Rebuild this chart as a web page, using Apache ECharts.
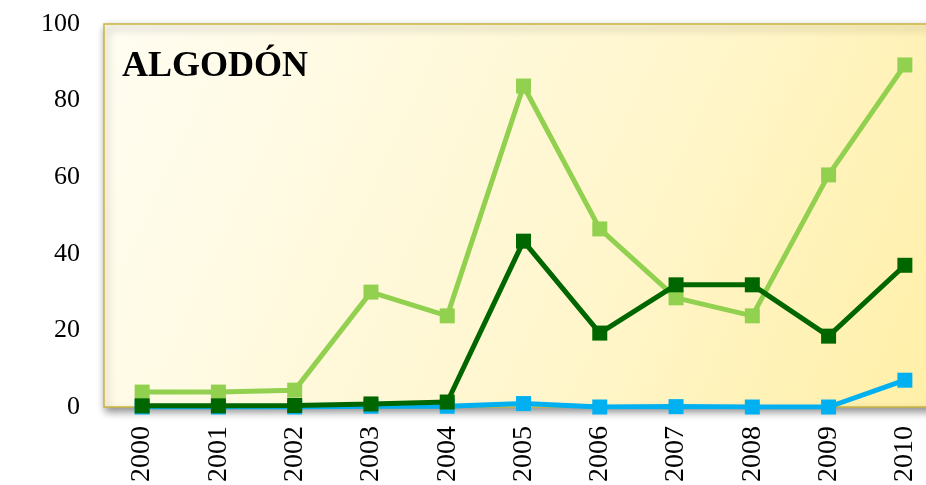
<!DOCTYPE html>
<html>
<head>
<meta charset="utf-8">
<script src="https://cdn.jsdelivr.net/npm/echarts@6/dist/echarts.min.js"></script>
<style>html,body{margin:0;padding:0;background:#fff;overflow:hidden;width:926px;height:485px;}#c{width:960px;height:485px;}</style>
</head>
<body>
<div id="c"></div>
<script>
var years = ['2000','2001','2002','2003','2004','2005','2006','2007','2008','2009','2010'];
var lightGreen = [3.9, 3.9, 4.4, 30.0, 23.8, 83.8, 46.5, 28.5, 23.8, 60.6, 89.3];
var darkGreen = [0.3, 0.3, 0.4, 0.8, 1.3, 43.3, 19.3, 31.9, 31.9, 18.5, 37.0];
var blue = [0.0, 0.0, 0.0, 0.2, 0.2, 0.9, 0.0, 0.1, 0.0, 0.0, 7.0];
var yTicks = [0, 20, 40, 60, 80, 100];

var chart = echarts.init(document.getElementById('c'));
var serif = '"Liberation Serif", "DejaVu Serif", serif';
function mk(name, data, color, z) {
  return {
    name: name, type: 'line', data: data, z: z,
    symbol: 'rect', symbolSize: 15,
    lineStyle: {color: color, width: 5},
    itemStyle: {color: color},
    emphasis: {disabled: true}
  };
}
chart.setOption({
  animation: false,
  title: {
    text: 'ALGODÓN', left: 117, top: 44,
    textStyle: {fontFamily: serif, fontSize: 36, fontWeight: 'bold', color: '#000'}
  },
  grid: {
    left: 104, top: 24, right: 17, height: 383,
    show: true,
    backgroundColor: {
      type: 'linear', x: 0, y: 0, x2: 1, y2: 1,
      colorStops: [{offset: 0, color: '#FFFDF2'}, {offset: 0.6, color: '#FFF6CC'}, {offset: 1, color: '#FFEFA6'}]
    },
    borderColor: '#C9B53C', borderWidth: 1.5,
    shadowColor: 'rgba(0,0,0,0.45)', shadowBlur: 8, shadowOffsetX: 2, shadowOffsetY: 4
  },
  xAxis: {
    type: 'category', data: years, boundaryGap: true,
    axisLine: {show: false}, axisTick: {show: false},
    axisLabel: {rotate: 90, margin: 19, fontFamily: serif, fontSize: 28, color: '#000', interval: 0}
  },
  yAxis: {
    type: 'value', min: 0, max: 100, interval: 20,
    axisLine: {show: false}, axisTick: {show: false}, splitLine: {show: false},
    axisLabel: {margin: 24, fontFamily: serif, fontSize: 26, color: '#000',
      formatter: function (v) { return yTicks.indexOf(v) >= 0 ? String(v) : ''; }}
  },
  series: [
    mk('Serie 3', blue, '#00B0F0', 2),
    mk('Serie 1', lightGreen, '#92D050', 3),
    mk('Serie 2', darkGreen, '#006600', 4)
  ]
});
</script>
</body>
</html>
